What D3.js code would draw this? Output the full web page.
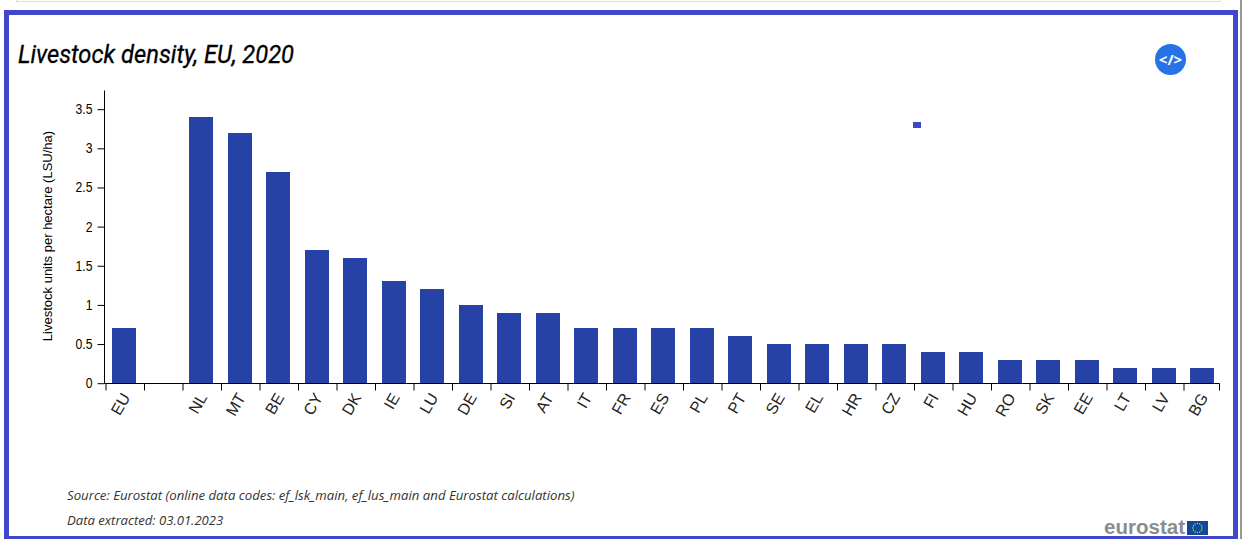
<!DOCTYPE html>
<html><head><meta charset="utf-8">
<script src="https://cdn.jsdelivr.net/npm/d3@7/dist/d3.min.js"></script>
<style>html,body{margin:0;padding:0;background:#fff;overflow:hidden}svg{display:block}</style>
</head><body><svg id="c" width="1242" height="539"></svg>
<script>
const categories = ["EU"," ","NL","MT","BE","CY","DK","IE","LU","DE","SI","AT","IT","FR","ES","PL","PT","SE","EL","HR","CZ","FI","HU","RO","SK","EE","LT","LV","BG"];
const values = [0.7,null,3.4,3.2,2.7,1.7,1.6,1.3,1.2,1.0,0.9,0.9,0.7,0.7,0.7,0.7,0.6,0.5,0.5,0.5,0.5,0.4,0.4,0.3,0.3,0.3,0.2,0.2,0.2];
const yTicks = [0,0.5,1,1.5,2,2.5,3,3.5];
const titleText = "Livestock density, EU, 2020";
const yLabel = "Livestock units per hectare (LSU/ha)";
const sourceText = "Source: Eurostat (online data codes: ef_lsk_main, ef_lus_main and Eurostat calculations)";
const extractedText = "Data extracted: 03.01.2023";

const svg = d3.select("#c");
const blue = "#2642a6", frame = "#4047cb";
const axisFont = "'Liberation Sans',Arial,sans-serif";

// page furniture
svg.append("rect").attr("x",16.5).attr("y",-5).attr("width",1204).attr("height",6.5).attr("fill","none").attr("stroke","#ddd");
svg.append("rect").attr("x",1240).attr("y",0).attr("width",2).attr("height",539).attr("fill","#999");
svg.append("rect").attr("x",6.5).attr("y",12.5).attr("width",1229).attr("height",526).attr("fill","none").attr("stroke",frame).attr("stroke-width",5);

const axisLeftX = 104.5, axisRightX = 1219.5;
const x = d3.scaleBand().domain(categories).range([106.4,1222.9]).paddingInner(0.377).paddingOuter(0.1885).align(0.413);
const y = d3.scaleLinear().domain([0,3.75]).range([383.2,89.6]);

svg.append("g").attr("shape-rendering","crispEdges").selectAll("rect")
  .data(values.map((v,i)=>({v,c:categories[i]})).filter(d=>d.v!==null)).join("rect")
  .attr("x",d=>x(d.c)).attr("width",x.bandwidth()).attr("y",d=>y(d.v)).attr("height",d=>y(0)-y(d.v)).attr("fill",blue);

const gy = svg.append("g").attr("transform",`translate(${axisLeftX},0)`)
  .call(d3.axisLeft(y).tickValues(yTicks).tickSize(7).tickPadding(5).tickFormat(d3.format("~g")));
gy.selectAll("text").attr("font-family",axisFont).attr("font-size",14).attr("fill","#000")
  .attr("x",-12/0.87).attr("transform","scale(0.87,1)");
gy.selectAll("line,path").attr("stroke","#000");
gy.select("path").attr("d","M0,90.5V383.5");

const gx = svg.append("g").attr("transform","translate(0,383.5)");
const stepX = x.step();
gx.append("line").attr("x1",axisLeftX).attr("x2",axisRightX).attr("stroke","#000");
const tickPos = d3.range(categories.length+1).map(i=>Math.min(axisRightX,Math.max(axisLeftX,106+i*stepX)));
gx.selectAll("line.t").data(tickPos).join("line").attr("class","t")
  .attr("x1",d=>d).attr("x2",d=>d).attr("y2",7).attr("stroke","#000");
gx.selectAll("text").data(categories).join("text")
  .attr("transform",d=>`translate(${x(d)+x.bandwidth()/2+1.5},11) rotate(-60)`)
  .attr("text-anchor","end").attr("dy","0.35em")
  .attr("font-family",axisFont).attr("font-size",16).attr("fill","#222").text(d=>d);

svg.append("text").attr("transform","translate(52,236) rotate(-90)").attr("text-anchor","middle")
  .attr("font-family",axisFont).attr("font-size",13).attr("fill","#000").text(yLabel);

svg.append("text").attr("x",18).attr("y",63).attr("font-family","Roboto,sans-serif").attr("font-style","italic")
  .attr("font-size",25).attr("fill","#000").attr("stroke","#000").attr("stroke-width",0.3)
  .attr("textLength",276).attr("lengthAdjust","spacingAndGlyphs").text(titleText);

svg.append("text").attr("x",67).attr("y",500).attr("font-family","'Open Sans',sans-serif").attr("font-style","italic").attr("font-size",13.2).attr("fill","#333").text(sourceText);
svg.append("text").attr("x",67).attr("y",525).attr("font-family","'Open Sans',sans-serif").attr("font-style","italic").attr("font-size",13.1).attr("fill","#333").text(extractedText);

// legend swatch
svg.append("rect").attr("x",913).attr("y",122).attr("width",8).attr("height",6).attr("fill",frame);

// code button
svg.append("circle").attr("cx",1170.5).attr("cy",59.5).attr("r",15.5).attr("fill","#2673e6");
svg.append("text").attr("x",1170.5).attr("y",64.5).attr("text-anchor","middle").attr("font-family","'Open Sans',sans-serif").attr("font-weight",700).attr("font-size",15).attr("fill","#fff").text("</>");

// logo
svg.append("text").attr("x",1104).attr("y",534).attr("font-family","'Liberation Sans',sans-serif").attr("font-weight",700).attr("font-size",20)
  .attr("fill","#8a8c8f").attr("textLength",81).attr("lengthAdjust","spacingAndGlyphs").text("eurostat");
svg.append("rect").attr("x",1187).attr("y",521).attr("width",21).attr("height",14).attr("fill","#0f4a96");
const stars = d3.range(12).map(i=>i*Math.PI/6);
svg.append("g").selectAll("circle").data(stars).join("circle")
  .attr("cx",a=>1197.5+4.6*Math.cos(a)).attr("cy",a=>528+4.6*Math.sin(a)).attr("r",0.7).attr("fill","#e6d53a");
</script></body></html>
